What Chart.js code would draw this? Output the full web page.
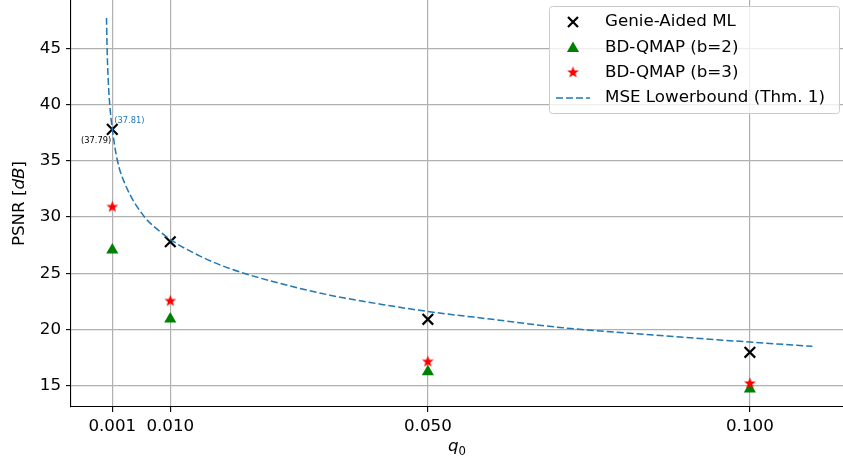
<!DOCTYPE html>
<html>
<head>
<meta charset="utf-8">
<script src="https://cdn.jsdelivr.net/npm/chart.js@4.4.0/dist/chart.umd.min.js"></script>
<style>
  html, body { margin: 0; padding: 0; background: #fff; }
  #wrap { width: 843px; height: 466px; }
</style>
</head>
<body>
<div id="wrap"><canvas id="myChart" width="843" height="466"></canvas></div>
<script>
// q0 values where the estimators were evaluated
const qValues = [0.001, 0.01, 0.05, 0.1];
const qTickLabels = ['0.001', '0.010', '0.050', '0.100'];
const yTicks = [15, 20, 25, 30, 35, 40, 45];

// PSNR [dB] per estimator
const genieML = [37.79, 27.8, 20.9, 17.97];
const qmapB2  = [27.07, 20.93, 16.25, 14.7];
const qmapB3  = [30.89, 22.53, 17.13, 15.2];

// MSE lower bound (Thm. 1)
const boundQ    = [0.0001, 0.0002, 0.0004, 0.0006, 0.001, 0.0018, 0.003, 0.006, 0.008, 0.01,
                   0.0147, 0.0193, 0.027, 0.0348, 0.0426, 0.05, 0.06, 0.071, 0.085, 0.1, 0.1097];
const boundPSNR = [47.7, 44.8, 41.8, 40.0, 37.81, 35.0, 32.9, 30.0, 28.9, 28.0,
                   26.5, 25.4, 24.1, 23.05, 22.25, 21.6, 20.9, 20.15, 19.5, 18.88, 18.5];

const FONT = '"DejaVu Sans", sans-serif';
const BLUE = '#1f77b4';

function pts(xs, ys) { return xs.map((x, i) => ({ x: x, y: ys[i] })); }

// filled 5-point star marker (chart.js 'star' is only strokes)
function makeStar(r, color) {
  const c = document.createElement('canvas');
  c.width = c.height = Math.ceil(r * 2 + 2);
  const g = c.getContext('2d');
  const cx = c.width / 2, cy = c.height / 2;
  g.beginPath();
  for (let i = 0; i < 10; i++) {
    const rad = i % 2 ? r * 0.42 : r;
    const a = -Math.PI / 2 + i * Math.PI / 5;
    g.lineTo(cx + rad * Math.cos(a), cy + rad * Math.sin(a));
  }
  g.closePath();
  g.fillStyle = color;
  g.fill();
  return c;
}
const starImg = makeStar(6.2, 'red');

function drawTriangle(ctx, x, y, r, color) {
  ctx.beginPath();
  ctx.moveTo(x, y - r);
  ctx.lineTo(x + r * 0.866, y + r * 0.5);
  ctx.lineTo(x - r * 0.866, y + r * 0.5);
  ctx.closePath();
  ctx.fillStyle = color;
  ctx.fill();
}

const extras = {
  id: 'extras',
  afterDatasetsDraw(chart) {
    const ctx = chart.ctx, xs = chart.scales.x, ys = chart.scales.y;
    // value labels at q0 = 0.001
    const px = xs.getPixelForValue(qValues[0]);
    ctx.save();
    ctx.font = '8.3px ' + FONT;
    ctx.textBaseline = 'middle';
    const bv = boundPSNR[boundQ.indexOf(qValues[0])];
    ctx.fillStyle = BLUE;
    ctx.textAlign = 'left';
    ctx.fillText('(' + bv.toFixed(2) + ')', px + 2, ys.getPixelForValue(bv) - 8);
    ctx.fillStyle = '#000';
    ctx.textAlign = 'right';
    ctx.fillText('(' + genieML[0].toFixed(2) + ')', px - 1, ys.getPixelForValue(genieML[0]) + 11);
    ctx.restore();
  },
  afterDraw(chart) {
    const ctx = chart.ctx, area = chart.chartArea;
    ctx.save();
    // y title: PSNR [dB] with italic dB
    ctx.translate(20, (area.top + area.bottom) / 2);
    ctx.rotate(-Math.PI / 2);
    ctx.fillStyle = '#000';
    ctx.textBaseline = 'middle';
    ctx.textAlign = 'left';
    const f1 = '16.7px ' + FONT, f2 = 'italic 16.7px ' + FONT;
    const parts = [['PSNR [', f1], ['dB', f2], [']', f1]];
    let tw = 0;
    parts.forEach(p => { ctx.font = p[1]; tw += ctx.measureText(p[0]).width; });
    let cx = -tw / 2;
    parts.forEach(p => { ctx.font = p[1]; ctx.fillText(p[0], cx, 0); cx += ctx.measureText(p[0]).width; });
    ctx.restore();

    // x title: q0
    ctx.save();
    ctx.fillStyle = '#000';
    ctx.textBaseline = 'alphabetic';
    ctx.font = 'italic 16.7px ' + FONT;
    const qw = ctx.measureText('q').width;
    ctx.font = '11.7px ' + FONT;
    const zw = ctx.measureText('0').width;
    const x0 = (area.left + area.right) / 2 - (qw + zw) / 2;
    ctx.font = 'italic 16.7px ' + FONT;
    ctx.fillText('q', x0, 451);
    ctx.font = '11.7px ' + FONT;
    ctx.fillText('0', x0 + qw, 455);
    ctx.restore();

    // legend box
    ctx.save();
    const bx = 549.5, by = 6.5, bw = 290, bh = 107;
    ctx.beginPath();
    ctx.roundRect(bx, by, bw, bh, 3);
    ctx.fillStyle = 'rgba(255,255,255,0.8)';
    ctx.fill();
    ctx.strokeStyle = '#cccccc';
    ctx.lineWidth = 1;
    ctx.stroke();
    const rows = [22, 47.5, 72.5, 98];
    const mx = 573;
    chart.data.datasets.forEach((ds, i) => {
      const y = rows[i];
      if (i === 0) {
        ctx.strokeStyle = '#000';
        ctx.lineWidth = 2.2;
        ctx.beginPath();
        ctx.moveTo(mx - 5, y - 5); ctx.lineTo(mx + 5, y + 5);
        ctx.moveTo(mx + 5, y - 5); ctx.lineTo(mx - 5, y + 5);
        ctx.stroke();
      } else if (i === 1) {
        drawTriangle(ctx, mx, y + 1, 7, 'green');
      } else if (i === 2) {
        ctx.drawImage(starImg, mx - starImg.width / 2, y - starImg.height / 2);
      } else {
        ctx.strokeStyle = BLUE;
        ctx.lineWidth = 1.5;
        ctx.setLineDash([7, 3]);
        ctx.beginPath();
        ctx.moveTo(556, y); ctx.lineTo(590, y);
        ctx.stroke();
        ctx.setLineDash([]);
      }
      ctx.fillStyle = '#000';
      ctx.font = '16.7px ' + FONT;
      ctx.textBaseline = 'middle';
      ctx.textAlign = 'left';
      ctx.fillText(ds.label, 605, y);
    });
    ctx.restore();
  }
};

const ctx = document.getElementById('myChart').getContext('2d');
const myChart = new Chart(ctx, {
  type: 'scatter',
  data: {
    datasets: [{
      label: 'Genie-Aided ML',
      data: pts(qValues, genieML),
      pointStyle: 'crossRot',
      pointRadius: 7.5,
      borderColor: '#000',
      borderWidth: 2.2,
      order: 1
    }, {
      label: 'BD-QMAP (b=2)',
      data: pts(qValues, qmapB2),
      pointStyle: 'triangle',
      pointRadius: 7,
      backgroundColor: 'green',
      borderColor: 'green',
      borderWidth: 0,
      order: 3
    }, {
      label: 'BD-QMAP (b=3)',
      data: pts(qValues, qmapB3),
      pointStyle: starImg,
      order: 2
    }, {
      label: 'MSE Lowerbound (Thm. 1)',
      data: pts(boundQ, boundPSNR),
      showLine: true,
      pointRadius: 0,
      borderColor: BLUE,
      borderWidth: 1.5,
      borderDash: [7, 3],
      cubicInterpolationMode: 'monotone',
      order: 0
    }]
  },
  options: {
    responsive: false,
    animation: false,
    devicePixelRatio: 1,
    layout: { padding: 0, autoPadding: false },
    plugins: { legend: { display: false }, tooltip: { enabled: false } },
    scales: {
      x: {
        type: 'linear',
        min: -0.005413,
        max: 0.11446,
        afterFit(s) { s.height = 59; s.paddingLeft = 0; s.paddingRight = 0; },
        afterBuildTicks(s) { s.ticks = qValues.map(v => ({ value: v })); },
        ticks: {
          font: { family: FONT, size: 16.7 },
          color: '#000',
          padding: 5,
          maxRotation: 0,
          autoSkip: false,
          callback: (v) => qTickLabels[qValues.indexOf(v)]
        },
        grid: { color: '#b0b0b0', lineWidth: 1.2, tickColor: '#000', tickLength: 5, tickWidth: 1.1 },
        border: { color: '#000', width: 1.1 }
      },
      y: {
        min: 13.106,
        max: 49.294,
        afterFit(s) { s.width = 71; s.paddingTop = 0; s.paddingBottom = 0; },
        afterBuildTicks(s) { s.ticks = yTicks.map(v => ({ value: v })); },
        ticks: {
          font: { family: FONT, size: 16.7 },
          color: '#000',
          padding: 5,
          callback: (v) => String(v)
        },
        grid: { color: '#b0b0b0', lineWidth: 1.2, tickColor: '#000', tickLength: 5, tickWidth: 1.1 },
        border: { color: '#000', width: 1.1 }
      }
    }
  },
  plugins: [extras]
});
</script>
</body>
</html>
